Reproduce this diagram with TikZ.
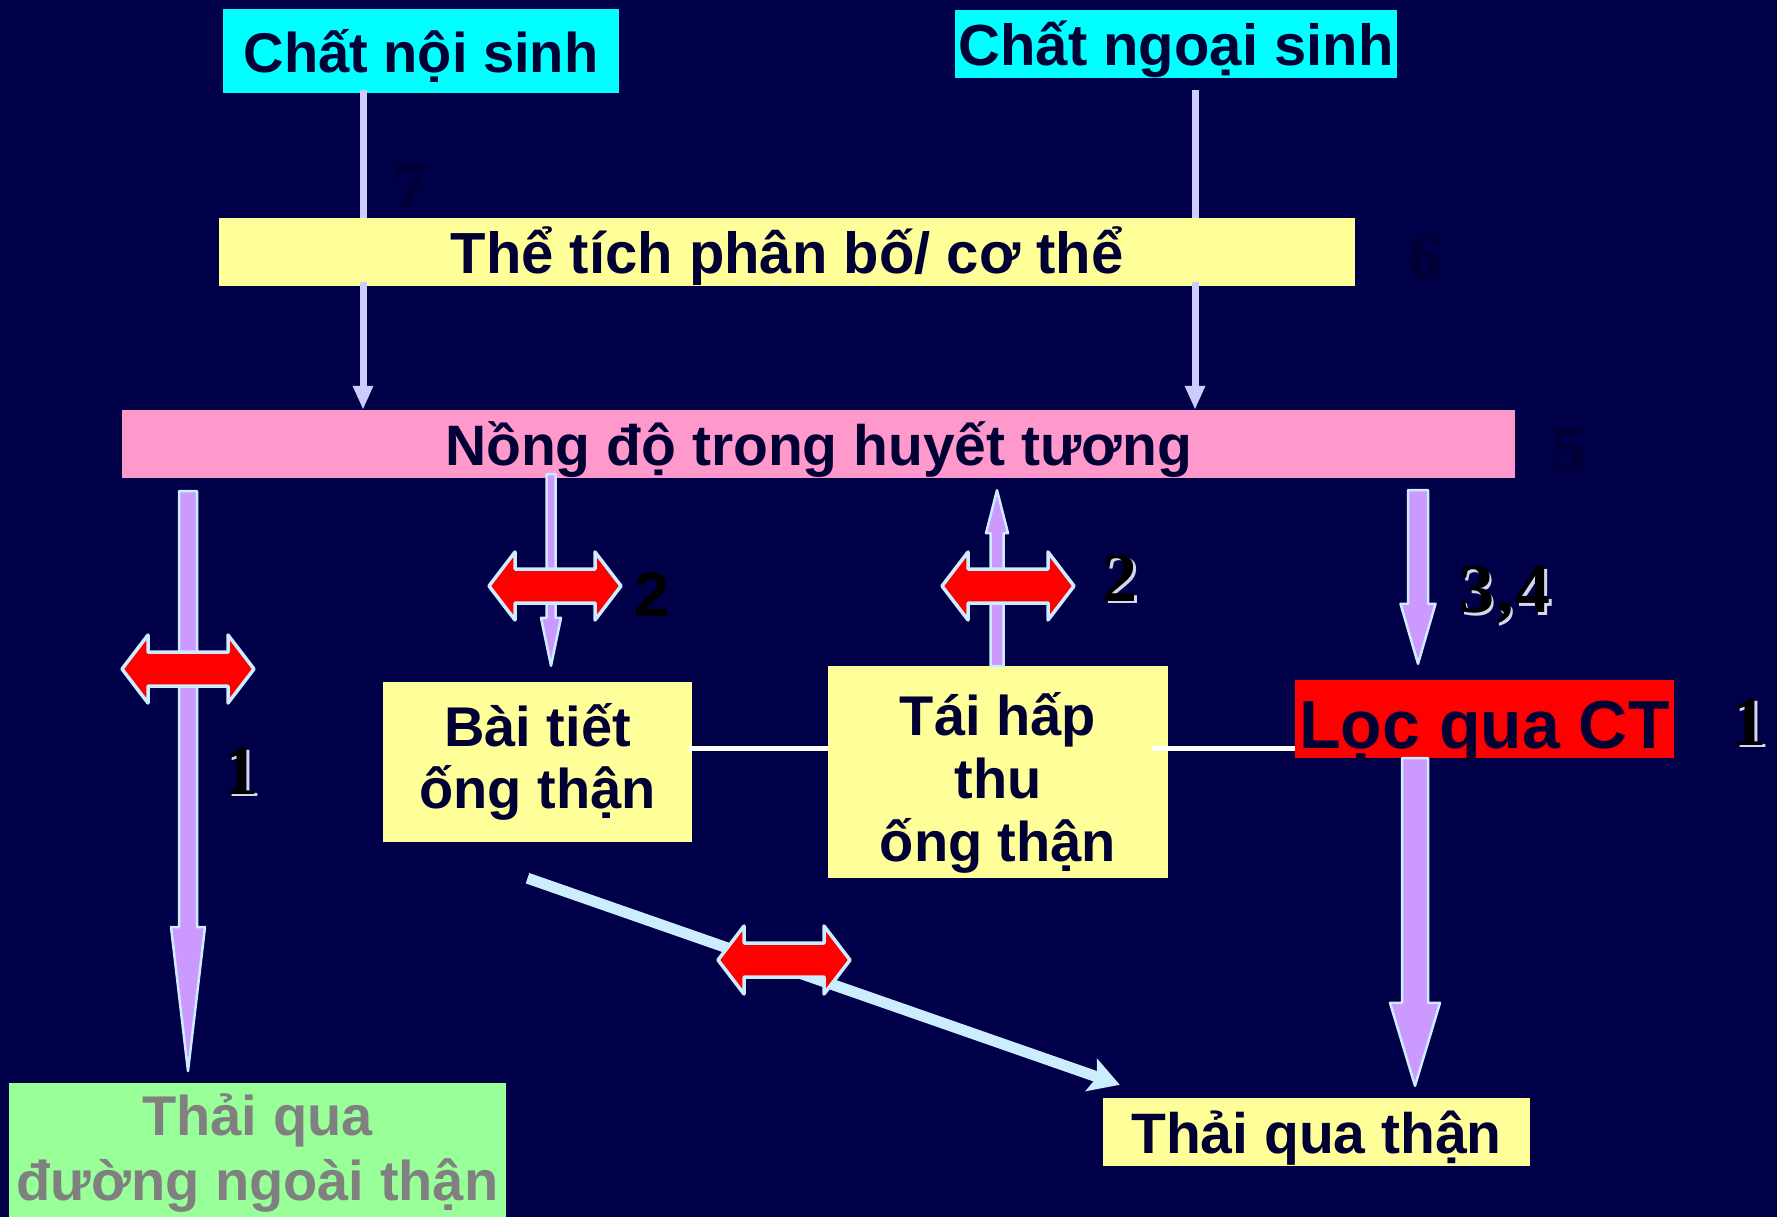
\documentclass[tikz,border=0pt]{standalone}
\usepackage{fontspec}
\setmainfont{Liberation Sans}
\newfontfamily\serifb{Liberation Serif}
\usetikzlibrary{arrows.meta,calc}
\definecolor{bg}{RGB}{0,0,72}
\definecolor{textc}{RGB}{0,0,52}
\definecolor{cyanc}{RGB}{0,255,255}
\definecolor{yel}{RGB}{255,255,153}
\definecolor{pinkc}{RGB}{255,153,204}
\definecolor{greenc}{RGB}{153,255,153}
\definecolor{grayc}{RGB}{128,128,128}
\definecolor{lav}{RGB}{204,204,255}
\definecolor{purp}{RGB}{204,153,255}
\definecolor{lcyan}{RGB}{204,236,255}
\definecolor{dimc}{RGB}{0,0,50}
\definecolor{shad}{RGB}{210,215,235}
% fat arrow: #1 start, #2 tip, #3 shaft half width, #4 head half width, #5 signed head length
\newcommand\fatarrow[5]{%
  \draw[fat] let \p1=(#1), \p2=(#2) in
    ({\x1-#3pt},{\y1}) -- ({\x1+#3pt},{\y1}) -- ({\x1+#3pt},{\y2+(#5pt)}) -- ({\x1+#4pt},{\y2+(#5pt)})
    -- ({\x1},{\y2}) -- ({\x1-#4pt},{\y2+(#5pt)}) -- ({\x1-#3pt},{\y2+(#5pt)}) -- cycle;}
% red double arrow centred on a named coordinate
\newcommand\dblarrow[1]{%
  \draw[redarr] ($(#1)+(-66,0)$) -- ++(26,-34) -- ++(0,17) -- ++(80,0) -- ++(0,-17)
    -- ++(26,34) -- ++(-26,34) -- ++(0,-17) -- ++(-80,0) -- ++(0,17) -- cycle;}
\begin{document}
\begin{tikzpicture}[x=1pt,y=-1pt,
  box/.style={rectangle, inner sep=0pt, text=textc, font=\bfseries\fontsize{56}{65}\selectfont},
  thinl/.style={draw=lav, line width=7pt},
  fat/.style={fill=purp, draw=lcyan, line width=2.5pt, line join=round},
  redarr/.style={fill=red, draw=lcyan, line width=3.5pt, line join=round},
  conn/.style={draw=white, line width=5pt},
  diag/.style={draw=lcyan, line width=11pt, -{Stealth[length=30pt,width=34pt,inset=6pt]}},
  numlbl/.style={font=\serifb\bfseries\fontsize{70}{70}\selectfont, text=black, inner sep=0pt},
  numshad/.style={numlbl, text=shad},
  dimlbl/.style={font=\serifb\bfseries\fontsize{66}{66}\selectfont, text=dimc, inner sep=0pt},
]
\fill[bg] (0,0) rectangle (1777,1217);
\useasboundingbox (0,0) rectangle (1777,1217);

% ---------- boxes ----------
\node[box, fill=cyanc, minimum width=396pt, text height=64pt, text depth=20pt, anchor=base]
  (noi) at (421,73) {Chất nội sinh};
\node[box, fill=cyanc, minimum width=442pt, text height=56pt, text depth=12pt, anchor=base,
  font=\bfseries\fontsize{58}{65}\selectfont]
  (ngoai) at (1176,66) {Chất ngoại sinh};
\node[box, fill=yel, minimum width=1136pt, text height=55pt, text depth=13pt, anchor=base,
  font=\bfseries\fontsize{58}{65}\selectfont]
  (thetich) at (787,273) {Thể tích phân bố/ cơ thể};
\node[box, fill=pinkc, minimum width=1393pt, text height=55pt, text depth=13pt, anchor=base,
  font=\bfseries\fontsize{57}{65}\selectfont]
  (nongdo) at (818.5,465) {Nồng độ trong huyết tương};
\node[box, fill=yel, minimum width=309pt, minimum height=160pt, align=center,
  font=\bfseries\fontsize{56}{62}\selectfont]
  (baitiet) at (537.5,762) {Bài tiết\\ống thận};
\node[box, fill=yel, minimum width=340pt, minimum height=212pt, align=center,
  font=\bfseries\fontsize{56}{63}\selectfont, anchor=north]
  (taihap) at (998,666) {\rule{0pt}{65pt}Tái hấp\\thu\\ống thận};
\node[box, fill=red, minimum width=379pt, text height=68pt, text depth=10pt, anchor=base,
  font=\bfseries\fontsize{68}{70}\selectfont]
  (loc) at (1484.5,748) {Lọc qua CT};
\node[box, fill=yel, minimum width=427pt, text height=55pt, text depth=13pt, anchor=base,
  font=\bfseries\fontsize{57}{65}\selectfont]
  (thaithan) at (1316.5,1153) {Thải qua thận};
\node[box, fill=greenc, text=grayc, minimum width=497pt, minimum height=140pt, align=center, anchor=north]
  (thaingoai) at (257.5,1083) {Thải qua\\đường ngoài thận};

% ---------- thin input lines ----------
\coordinate (xl) at (363,0);
\coordinate (xr) at (1195,0);
\draw[thinl, shorten <=-3pt] (xl |- noi.south) -- (xl |- thetich.north);
\draw[thinl, shorten <=-4pt, -{Triangle[length=24pt,width=19pt]}] (xl |- thetich.south) -- (xl |- nongdo.north);
\draw[thinl, shorten <=12pt] (xr |- ngoai.south) -- (xr |- thetich.north);
\draw[thinl, shorten <=-4pt, -{Triangle[length=24pt,width=19pt]}] (xr |- thetich.south) -- (xr |- nongdo.north);

% ---------- white links ----------
\coordinate (hl) at (0,748);
\draw[conn, shorten <=-4pt] (baitiet.east |- hl) -- (taihap.west |- hl);
\draw[conn, shorten <=-16pt] (taihap.east |- hl) -- (loc.west |- hl);

% ---------- fat arrows ----------
\coordinate (x1) at (188,0);
\coordinate (x2) at (551,0);
\coordinate (x3) at (997,0);
\coordinate (x4) at (1418,0);
\coordinate (x5) at (1415,0);
\coordinate (a1s) at ($(x1 |- nongdo.south)+(0,13)$);
\coordinate (a1t) at ($(x1 |- thaingoai.north)+(0,-12)$);
\coordinate (a2s) at ($(x2 |- nongdo.south)+(0,-4)$);
\coordinate (a2t) at ($(x2 |- baitiet.north)+(0,-16)$);
\coordinate (a3s) at (x3 |- taihap.north);
\coordinate (a3t) at ($(x3 |- nongdo.south)+(0,12)$);
\coordinate (a4s) at ($(x4 |- nongdo.south)+(0,12)$);
\coordinate (a4t) at ($(x4 |- loc.north)+(0,-16)$);
\coordinate (a5s) at (x5 |- loc.south);
\coordinate (a5t) at ($(x5 |- thaithan.north)+(0,-12)$);
\fatarrow{a1s}{a1t}{9}{17}{144}
\fatarrow{a2s}{a2t}{4.5}{10}{48}
\fatarrow{a3s}{a3t}{6.5}{11}{-43}
\fatarrow{a4s}{a4t}{10}{17.5}{60}
\fatarrow{a5s}{a5t}{13}{25}{83}

% ---------- diagonal ----------
\coordinate (d1) at ($(baitiet.south)+(-10,36)$);
\coordinate (d2) at ($(thaithan.north west)+(17,-13)$);
\draw[diag] (d1) -- (d2);

% ---------- red double arrows ----------
\coordinate (r1) at (188,669);
\coordinate (r2) at (555,586);
\coordinate (r3) at (1008,586);
\coordinate (r4) at (784,960);
\dblarrow{r1}
\dblarrow{r2}
\dblarrow{r3}
\dblarrow{r4}

% ---------- labels ----------
\node[dimlbl] (l7) at (410,187) {7};
\node[dimlbl] (l6) at (1425,258) {6};
\node[dimlbl] (l5) at (1569,450) {5};
\node[numshad] (l1as) at (243.5,773.5) {1};
\node[numlbl] (l1a) at (241,771) {1};
\node[font=\bfseries\fontsize{63}{63}\selectfont, text=black, inner sep=0pt] (l2a) at (652,595) {2};
\node[numshad] (l2bs) at (1122.5,580.5) {2};
\node[numlbl] (l2b) at (1120,578) {2};
\node[numshad] (l34s) at (1507.5,597.5) {3\kern2pt,\kern2pt4};
\node[numlbl] (l34) at (1505,595) {3\kern2pt,\kern2pt4};
\node[numshad] (l1bs) at (1751.5,724.5) {1};
\node[numlbl] (l1b) at (1749,722) {1};
\end{tikzpicture}
\end{document}
